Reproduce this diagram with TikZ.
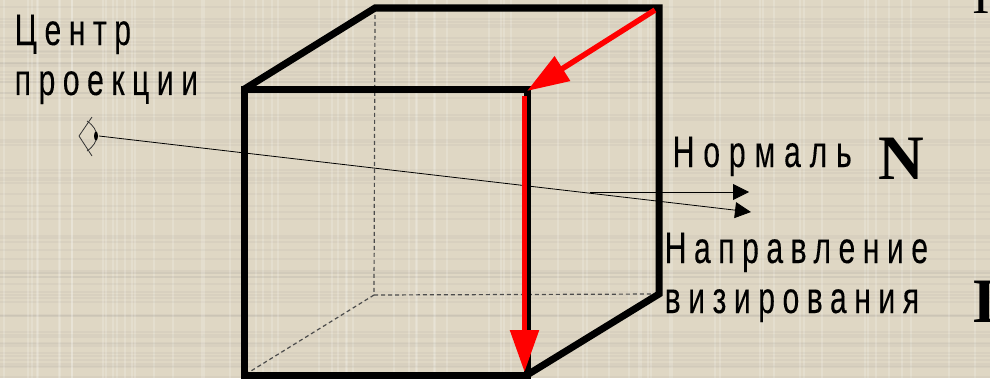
\documentclass[tikz,border=0pt]{standalone}
\usepackage{fontspec}
\setmainfont{Liberation Sans}
\newfontfamily\labfont[LetterSpace=17,FakeStretch=0.68,FakeBold=0.15]{Liberation Sans}
\newfontfamily\normfont[LetterSpace=20,FakeStretch=0.68,FakeBold=0.15]{Liberation Sans}
\newfontfamily\bigfont{Liberation Serif}
\usetikzlibrary{positioning,calc,arrows.meta}
\definecolor{paper}{HTML}{DFD7C4}

\begin{document}
\begin{tikzpicture}[
  x=1cm, y=1cm,
  edge/.style={line width=0.07cm, black, line join=miter},
  hidden/.style={line width=0.012cm, dashed, dash pattern=on 0.04cm off 0.03cm, black!70},
  arrR/.style={-{Triangle[length=0.42cm, width=0.28cm]}, line width=0.055cm, red},
  ray/.style={-{Triangle[length=0.16cm, width=0.16cm]}, line width=0.008cm, black},
  eye/.style={line width=0.008cm, black!80},
  lab/.style={font=\labfont\fontsize{12.6pt}{14pt}\selectfont, anchor=base west, inner sep=0pt},
  big/.style={font=\bigfont\bfseries\fontsize{18pt}{20pt}\selectfont, anchor=base west, inner sep=0pt}
]

\useasboundingbox (0,0) rectangle (9.9,-3.78);
\clip (0,0) rectangle (9.9,-3.78);
\fill[paper] (0,0) rectangle (9.9,-3.78);

% Cloth weave
\pgfmathsetseed{7}
\foreach \i in {1,...,70} {
  \pgfmathsetmacro{\px}{rnd*9.9}
  \pgfmathsetmacro{\py}{-rnd*3.78}
  \draw[white, opacity=0.18, line width=0.02cm] (\px,0) -- (\px,-3.78);
  \draw[black!50, opacity=0.07, line width=0.02cm] (0,\py) -- (9.9,\py);
}

% Cube corners
\coordinate (FTL) at (2.445,-0.89);
\coordinate (FTR) at (5.27,-0.89);
\coordinate (FBL) at (2.445,-3.75);
\coordinate (FBR) at (5.27,-3.75);
\coordinate (BTL) at (3.75,-0.08);
\coordinate (BTR) at (6.59,-0.08);
\coordinate (BBL) at (3.74,-2.95);
\coordinate (BBR) at (6.59,-2.94);

% Hidden edges
\draw[hidden] (BTL) -- (BBL);
\draw[hidden] (BBL) -- (BBR);
\draw[hidden] (BBL) -- (FBL);

% Visible edges
\draw[edge] (FTL) -- (FTR) -- (FBR) -- (FBL) -- cycle;
\draw[edge] (FTL) -- (BTL) -- (BTR) -- (BBR) -- (FBR);

% Eye
\coordinate (EyeT) at (0.92,-1.17);
\coordinate (EyeL) at (0.79,-1.36);
\coordinate (EyeB) at (0.92,-1.56);
\coordinate (EyeC) at (0.99,-1.36);
\draw[eye] (EyeT) -- (EyeL) -- (EyeB);
\draw[eye] (0.87,-1.21) .. controls (1.00,-1.30) and (1.00,-1.42) .. (0.87,-1.51);
\fill[black] (0.96,-1.36) ellipse (0.02cm and 0.045cm);

% Rays
\coordinate (RayS) at (5.90,-1.92);
\coordinate (RayN) at (7.49,-1.92);
\coordinate (RayV) at (7.51,-2.12);
\draw[ray] (RayS) -- (RayN);
\draw[ray] (EyeC) -- (RayV);

% Red path
\coordinate (RedS) at (6.55,-0.10);
\coordinate (RedM) at (5.27,-0.91);
\coordinate (RedT) at (5.245,-0.96);
\coordinate (RedE) at (5.245,-3.72);
\draw[arrR] (RedS) -- (RedM);
\draw[arrR] (RedT) -- (RedE);

% Labels
\node[lab] (centr) at (0.14,-0.45) {Центр};
\node[lab] (proek) at (0.14,-0.95) {проекции};
\node[lab, font=\normfont\fontsize{12.6pt}{14pt}\selectfont] (norm) at (6.72,-1.67) {Нормаль};
\node[big] (bigN) at (8.78,-1.79) {N};
\node[lab] (napr) at (6.64,-2.63) {Направление};
\node[lab] (viz) at (6.64,-3.13) {визирования};
\node[big] (bigL) at (9.73,-3.22) {L};
\node[font=\bigfont\fontsize{15pt}{16pt}\selectfont, anchor=base west, inner sep=0pt] (bigT) at (9.72,-0.135) {I};

\end{tikzpicture}
\end{document}
